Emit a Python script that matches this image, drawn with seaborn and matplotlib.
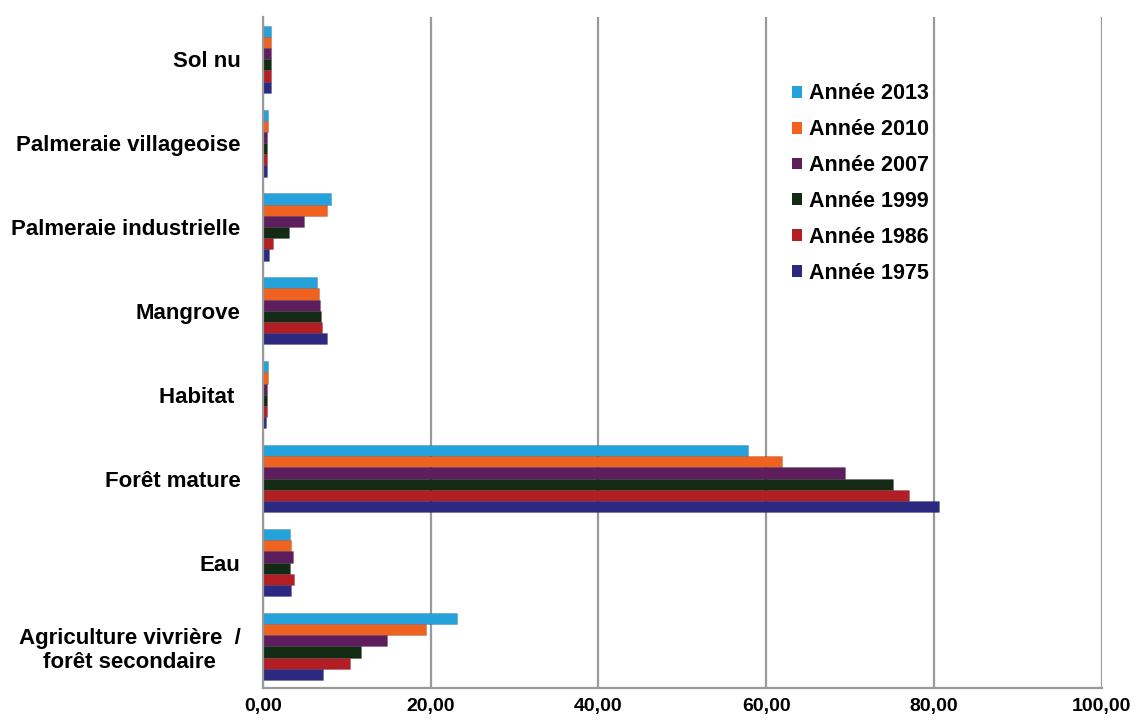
import numpy as np
import pandas as pd
import matplotlib
matplotlib.use("Agg")
import matplotlib.pyplot as plt
import matplotlib.transforms as mtransforms
import seaborn as sns

categories = ["Sol nu", "Palmeraie villageoise", "Palmeraie industrielle", "Mangrove",
              "Habitat ", "Forêt mature", "Eau", "Agriculture vivrière  /\nforêt secondaire"]
years = ["Année 2013", "Année 2010", "Année 2007", "Année 1999", "Année 1986", "Année 1975"]
v2013 = [1.0, 0.6, 8.1, 6.5, 0.6, 57.9, 3.2, 23.1]
v2010 = [1.0, 0.6, 7.7, 6.7, 0.6, 61.9, 3.3, 19.5]
v2007 = [1.0, 0.5, 4.9, 6.8, 0.5, 69.4, 3.6, 14.8]
v1999 = [1.0, 0.5, 3.1, 6.9, 0.5, 75.1, 3.2, 11.7]
v1986 = [1.0, 0.5, 1.2, 7.1, 0.5, 77.0, 3.7, 10.4]
v1975 = [1.0, 0.5, 0.7, 7.7, 0.4, 80.6, 3.3, 7.2]
colors = ["#25A2DC", "#F0621F", "#5E1E5E", "#132A14", "#B21E24", "#2C2A80"]
xticks = [0, 20, 40, 60, 80, 100]

series = [v2013, v2010, v2007, v1999, v1986, v1975]
rows = []
for y, vals in zip(years, series):
    for c, v in zip(categories, vals):
        rows.append({"cat": c, "val": v, "annee": y})
df = pd.DataFrame(rows)

sns.set_style("white")
plt.rcParams["font.family"] = ["Liberation Sans", "DejaVu Sans"]
plt.rcParams["font.weight"] = "bold"
plt.rcParams["text.color"] = "black"
plt.rcParams["xtick.color"] = "black"
plt.rcParams["ytick.color"] = "black"

fig = plt.figure(figsize=(11.38, 7.2), dpi=100)
ax = fig.add_axes([0.231, 0.044, 0.737, 0.932])
sns.barplot(data=df, y="cat", x="val", hue="annee", order=categories, hue_order=years,
            palette=colors, saturation=1, width=0.8, gap=0, orient="h", ax=ax,
            edgecolor="#00000030", linewidth=0.6)

ax.set_xlim(0, 100)
ax.set_xticks(xticks)
ax.set_xticklabels([f"{t:.2f}".replace(".", ",") for t in xticks], fontsize=14, fontweight="bold")
shift = mtransforms.ScaledTranslation(-7 / 100, 0, fig.dpi_scale_trans)
for lbl in ax.get_xticklabels():
    lbl.set_transform(lbl.get_transform() + shift)
ax.set_ylim(7.5, -0.5)
ax.set_yticks(range(len(categories)))
ax.set_yticklabels(categories, fontsize=16, fontweight="bold", multialignment="center")
ax.tick_params(axis="y", length=0, pad=16)
ax.tick_params(axis="x", length=0, pad=7)
ax.set_yticks(np.arange(-0.5, 8.0, 1.0), minor=True)
ax.tick_params(axis="y", which="minor", length=6, color="#999999", width=1.2)
ax.set_xlabel("")
ax.set_ylabel("")
ax.xaxis.grid(True, color="#9a9a9a", linewidth=1.6)
ax.set_axisbelow(True)
for s in ["top", "right"]:
    ax.spines[s].set_visible(False)
for s in ["left", "bottom"]:
    ax.spines[s].set_color("#9a9a9a")
    ax.spines[s].set_linewidth(1.6)

leg = ax.legend(loc="upper left", bbox_to_anchor=(0.679, 0.911), bbox_transform=fig.transFigure,
                frameon=False, prop={"size": 15.5, "weight": "bold"}, handlelength=0.47,
                handleheight=0.47, handletextpad=0.3, labelspacing=0.69)
for h in leg.legend_handles:
    h.set_edgecolor("none")

fig.savefig("out.png", dpi=100)
